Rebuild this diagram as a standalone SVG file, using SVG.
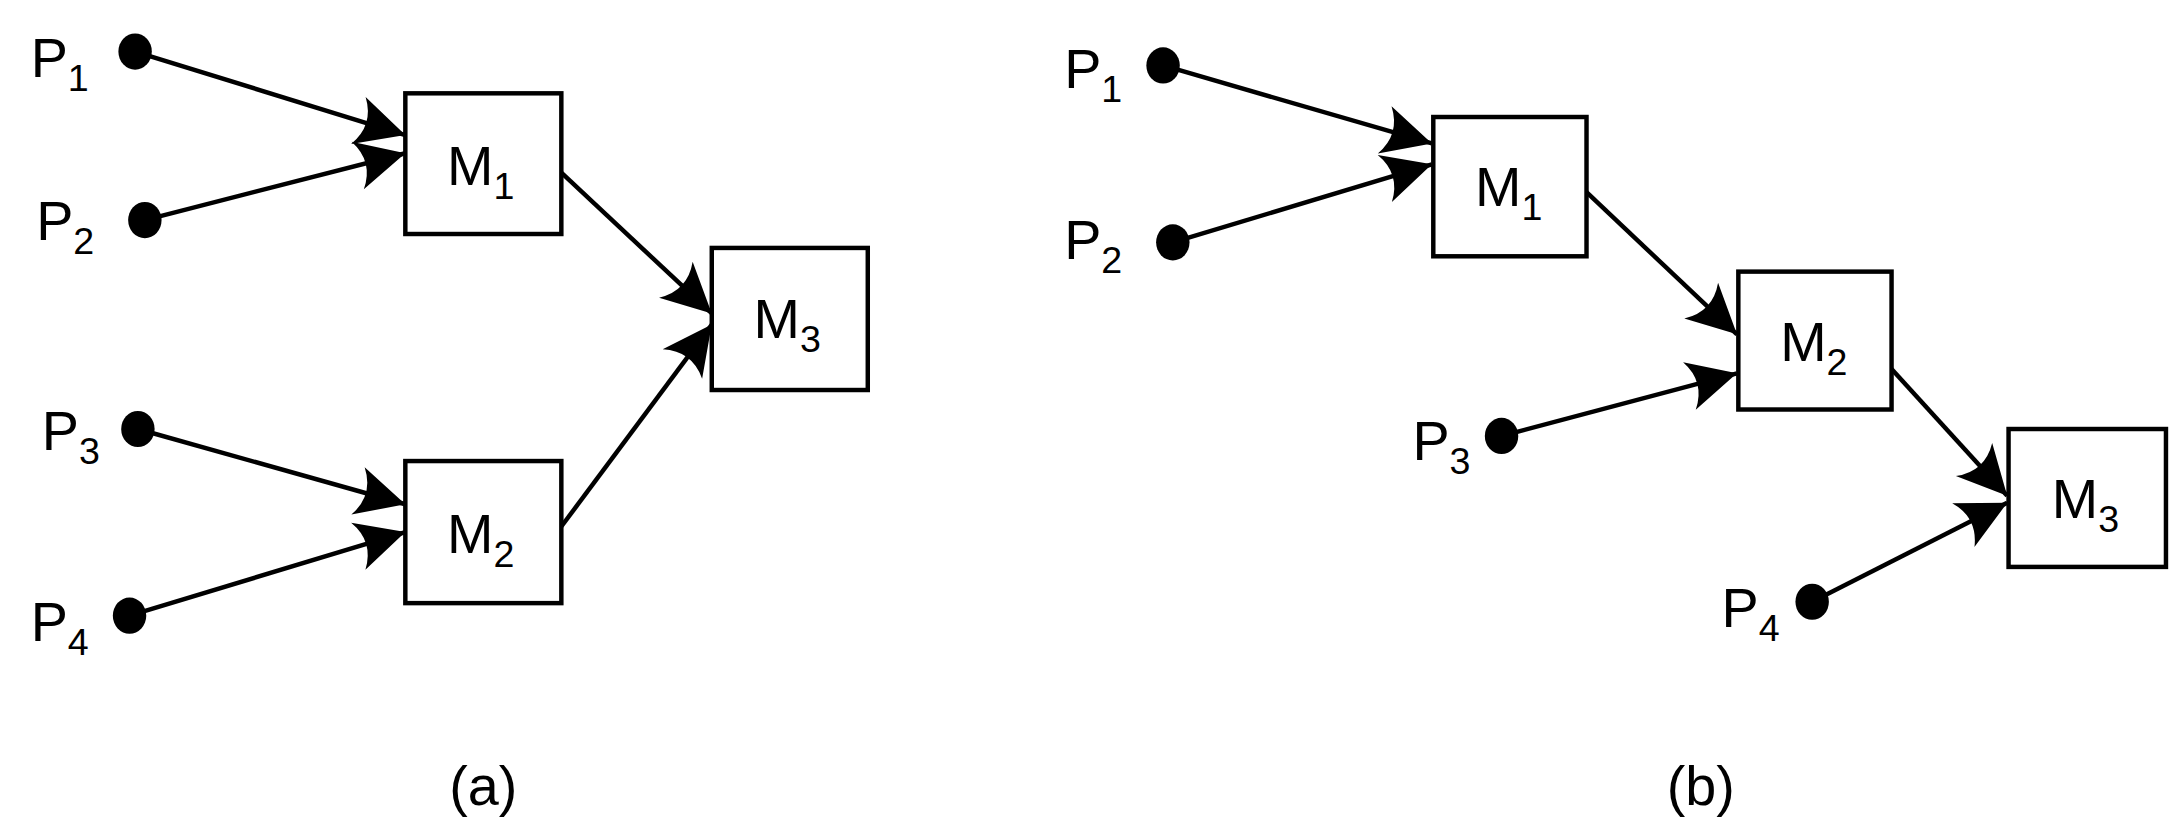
<svg xmlns="http://www.w3.org/2000/svg" width="2184" height="837" viewBox="0 0 2184 837">
<defs>
<style>
.box{fill:#fff;stroke:#000;stroke-width:3.2}
.ln{stroke:#000;stroke-width:3.2;fill:none;marker-end:url(#ah)}
.dot{fill:#000}
text{font-family:"Liberation Sans",Arial,sans-serif;fill:#000}
.t{font-size:40px}
.s{font-size:27px}
</style>
<marker id="ah" markerUnits="userSpaceOnUse" markerWidth="40" markerHeight="40" viewBox="-32 -16 34 32" refX="0" refY="0" orient="auto">
<path d="M0,0 L-30,-15 Q-20,0 -30,15 Z" fill="#000"/>
</marker>
</defs>
<rect width="2184" height="837" fill="#fff"/>
<g transform="scale(1.3929)">
<g id="connectors">
<line class="ln" x1="97" y1="37" x2="291" y2="97"/>
<line class="ln" x1="104" y1="158" x2="291" y2="110"/>
<line class="ln" x1="403" y1="124" x2="511" y2="225"/>
<line class="ln" x1="403" y1="378" x2="511" y2="233"/>
<line class="ln" x1="99" y1="308" x2="291" y2="362"/>
<line class="ln" x1="93" y1="442" x2="291" y2="382"/>
<line class="ln" x1="835" y1="47" x2="1028" y2="103"/>
<line class="ln" x1="842" y1="174" x2="1028" y2="118"/>
<line class="ln" x1="1139" y1="138" x2="1247" y2="240"/>
<line class="ln" x1="1078" y1="313" x2="1247" y2="268"/>
<line class="ln" x1="1358" y1="265" x2="1441" y2="356"/>
<line class="ln" x1="1301" y1="432" x2="1441" y2="361"/>
</g>
<g id="a-P1"><ellipse class="dot" cx="97" cy="37" rx="12" ry="13"/><text class="t" x="22" y="55">P<tspan class="s" dy="10">1</tspan></text></g>
<g id="a-P2"><ellipse class="dot" cx="104" cy="158" rx="12" ry="13"/><text class="t" x="26" y="172">P<tspan class="s" dy="10">2</tspan></text></g>
<g id="a-P3"><ellipse class="dot" cx="99" cy="308" rx="12" ry="13"/><text class="t" x="30" y="323">P<tspan class="s" dy="10">3</tspan></text></g>
<g id="a-P4"><ellipse class="dot" cx="93" cy="442" rx="12" ry="13"/><text class="t" x="22" y="460">P<tspan class="s" dy="10">4</tspan></text></g>
<g id="a-M1"><rect class="box" x="291" y="67" width="112" height="101"/><text class="t" x="321" y="133">M<tspan class="s" dy="10">1</tspan></text></g>
<g id="a-M2"><rect class="box" x="291" y="331" width="112" height="102"/><text class="t" x="321" y="397">M<tspan class="s" dy="10">2</tspan></text></g>
<g id="a-M3"><rect class="box" x="511" y="178" width="112" height="102"/><text class="t" x="541" y="243">M<tspan class="s" dy="10">3</tspan></text></g>
<text class="t" x="347" y="578" text-anchor="middle">(a)</text>
<g id="b-P1"><ellipse class="dot" cx="835" cy="47" rx="12" ry="13"/><text class="t" x="764" y="63">P<tspan class="s" dy="10">1</tspan></text></g>
<g id="b-P2"><ellipse class="dot" cx="842" cy="174" rx="12" ry="13"/><text class="t" x="764" y="186">P<tspan class="s" dy="10">2</tspan></text></g>
<g id="b-P3"><ellipse class="dot" cx="1078" cy="313" rx="12" ry="13"/><text class="t" x="1014" y="330">P<tspan class="s" dy="10">3</tspan></text></g>
<g id="b-P4"><ellipse class="dot" cx="1301" cy="432" rx="12" ry="13"/><text class="t" x="1236" y="450">P<tspan class="s" dy="10">4</tspan></text></g>
<g id="b-M1"><rect class="box" x="1029" y="84" width="110" height="100"/><text class="t" x="1059" y="148">M<tspan class="s" dy="10">1</tspan></text></g>
<g id="b-M2"><rect class="box" x="1248" y="195" width="110" height="99"/><text class="t" x="1278" y="259">M<tspan class="s" dy="10">2</tspan></text></g>
<g id="b-M3"><rect class="box" x="1442" y="308" width="113" height="99"/><text class="t" x="1473" y="372">M<tspan class="s" dy="10">3</tspan></text></g>
<text class="t" x="1221" y="578" text-anchor="middle">(b)</text>
</g>
</svg>
